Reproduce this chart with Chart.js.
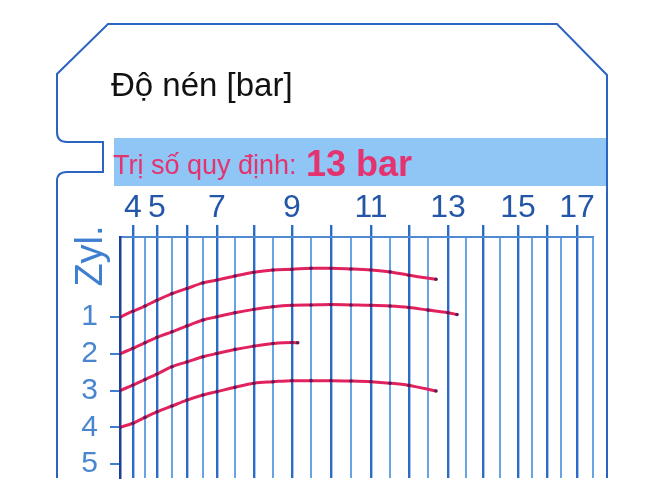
<!DOCTYPE html>
<html>
<head>
<meta charset="utf-8">
<script src="https://cdn.jsdelivr.net/npm/chart.js@4.4.0/dist/chart.umd.min.js"></script>
<style>
  html, body { margin: 0; padding: 0; background: #fff; }
  canvas { display: block; }
</style>
</head>
<body>
<canvas id="card" width="656" height="497"></canvas>
<script>
  // Nhãn thang áp suất (bar) và hàng xi-lanh
  const pressureLabels = [4, 5, 7, 9, 11, 13, 15, 17];
  const cylinders = [1, 2, 3, 4, 5];

  // Vết ghi từng xi-lanh: áp suất (bar) -> vị trí hàng
  const zyl1Bar = [3.5, 4, 4.5, 5, 5.5, 6, 6.5, 7, 7.5, 8, 8.5, 9, 9.5, 10, 10.5, 11, 11.5, 12, 12.7];
  const zyl1Row = [1.0, 0.84, 0.70, 0.54, 0.36, 0.22, 0.07, -0.01, -0.12, -0.22, -0.28, -0.30, -0.33, -0.33, -0.31, -0.28, -0.23, -0.14, -0.03];

  const zyl2Bar = [3.5, 4, 4.5, 5, 5.5, 6, 6.5, 7, 7.5, 8, 8.5, 9, 9.5, 10, 10.5, 11, 11.5, 12, 12.5, 13, 13.25];
  const zyl2Row = [2.0, 1.85, 1.70, 1.55, 1.40, 1.24, 1.08, 0.99, 0.88, 0.79, 0.72, 0.68, 0.67, 0.66, 0.67, 0.68, 0.70, 0.74, 0.81, 0.88, 0.93];

  const zyl3Bar = [3.5, 4, 4.5, 5, 5.5, 6, 6.5, 7, 7.5, 8, 8.5, 9, 9.15];
  const zyl3Row = [3.0, 2.85, 2.70, 2.55, 2.35, 2.22, 2.08, 1.99, 1.88, 1.79, 1.72, 1.69, 1.70];

  const zyl4Bar = [3.5, 4, 4.5, 5, 5.5, 6, 6.5, 7, 7.5, 8, 8.5, 9, 9.5, 10, 10.5, 11, 11.5, 12, 12.7];
  const zyl4Row = [4.0, 3.89, 3.73, 3.58, 3.42, 3.26, 3.12, 3.03, 2.91, 2.80, 2.76, 2.73, 2.73, 2.73, 2.74, 2.76, 2.80, 2.86, 3.01];

  // Thang in trên thẻ không tuyến tính: độ rộng mỗi nửa bar (từ 3.5 đến 17.5)
  const gaugeStart = 3.5;
  const gaugeStep = 0.5;
  const gaugeWidths = [13, 12, 12, 15, 15, 16, 14, 18, 19, 19, 19, 19, 20, 20, 20, 19, 19, 19, 20, 18, 17, 17, 18, 14, 15, 14, 16, 16];
  const gaugeTotal = gaugeWidths.reduce((a, b) => a + b, 0);
  const gaugeEnd = gaugeStart + gaugeWidths.length * gaugeStep;

  function gaugeDecimal(v) {
    let pos = (v - gaugeStart) / gaugeStep;
    if (pos <= 0) return pos * gaugeWidths[0] / gaugeTotal;
    let acc = 0;
    for (let i = 0; i < gaugeWidths.length; i++) {
      if (pos <= 1 || i === gaugeWidths.length - 1) return (acc + pos * gaugeWidths[i]) / gaugeTotal;
      acc += gaugeWidths[i];
      pos -= 1;
    }
    return 1;
  }
  function gaugeValue(d) {
    let px = d * gaugeTotal;
    let v = gaugeStart;
    for (let i = 0; i < gaugeWidths.length; i++) {
      if (px <= gaugeWidths[i] || i === gaugeWidths.length - 1) return v + px / gaugeWidths[i] * gaugeStep;
      px -= gaugeWidths[i];
      v += gaugeStep;
    }
    return gaugeEnd;
  }

  class GaugeScale extends Chart.LinearScale {
    static id = 'gauge';
    getPixelForValue(value) {
      return this.getPixelForDecimal(gaugeDecimal(value));
    }
    getValueForPixel(pixel) {
      return gaugeValue(this.getDecimalForPixel(pixel));
    }
  }
  Chart.register(GaugeScale);

  const gaugeTicks = gaugeWidths.map((w, i) => gaugeStart + i * gaugeStep).concat([gaugeEnd]);
  const toPoints = (xs, ys) => xs.map((x, i) => ({ x: x, y: ys[i] }));

  const traceStyle = {
    borderColor: '#e2225e',
    borderWidth: 3,
    cubicInterpolationMode: 'monotone',
    pointRadius: 1.8,
    pointBackgroundColor: '#5e1a4e',
    pointBorderWidth: 0,
    fill: false
  };

  const cardPlugin = {
    id: 'cardFrame',
    beforeDraw(chart) {
      const c = chart.ctx;
      c.save();
      // dải xanh
      c.fillStyle = '#8fc6f6';
      c.fillRect(114, 138, 493, 48);
      // viền thẻ
      c.strokeStyle = '#2c64c2';
      c.lineWidth = 2;
      c.beginPath();
      c.moveTo(57, 478);
      c.lineTo(57, 181);
      c.quadraticCurveTo(57, 172, 67, 172);
      c.lineTo(103, 172);
      c.lineTo(103, 142);
      c.lineTo(67, 142);
      c.quadraticCurveTo(57, 142, 57, 132);
      c.lineTo(57, 74);
      c.lineTo(108, 24);
      c.lineTo(557, 24);
      c.lineTo(607, 75);
      c.lineTo(607, 478);
      c.stroke();
      // tiêu đề
      c.fillStyle = '#111111';
      c.font = '33px "Liberation Sans"';
      c.textBaseline = 'alphabetic';
      c.fillText('Độ nén [bar]', 111, 96);
      c.fillStyle = '#e5336f';
      c.font = '27px "Liberation Sans"';
      c.fillText('Trị số quy định:', 113, 174);
      c.font = 'bold 36px "Liberation Sans"';
      c.fillText('13 bar', 306, 176);
      // nhãn trục hàng
      c.translate(92, 256);
      c.rotate(-Math.PI / 2);
      c.fillStyle = '#3f7fd0';
      c.font = '38px "Liberation Sans"';
      c.textAlign = 'center';
      c.textBaseline = 'middle';
      c.fillText('Zyl.', 0, 0);
      c.restore();
    }
  };

  new Chart(document.getElementById('card'), {
    type: 'line',
    data: {
      datasets: [
        { label: '1', data: toPoints(zyl1Bar, zyl1Row), ...traceStyle },
        { label: '2', data: toPoints(zyl2Bar, zyl2Row), ...traceStyle },
        { label: '3', data: toPoints(zyl3Bar, zyl3Row), ...traceStyle },
        { label: '4', data: toPoints(zyl4Bar, zyl4Row), ...traceStyle }
      ]
    },
    options: {
      responsive: false,
      animation: false,
      events: [],
      layout: { padding: { left: 0, top: 0, right: 63, bottom: 19 } },
      plugins: { legend: { display: false }, tooltip: { enabled: false } },
      scales: {
        x: {
          type: 'gauge',
          position: 'top',
          min: gaugeStart,
          max: gaugeEnd,
          afterBuildTicks: s => { s.ticks = gaugeTicks.map(v => ({ value: v })); },
          afterFit: s => { s.height = 237; s.paddingLeft = 0; s.paddingRight = 0; },
          ticks: {
            autoSkip: false,
            maxRotation: 0,
            padding: -2,
            color: '#2456a8',
            font: { family: 'Liberation Sans', size: 32 },
            callback: v => pressureLabels.includes(v) ? String(v) : ''
          },
          grid: {
            color: ctx => {
              const v = ctx.tick.value;
              if (v === gaugeStart) return '#1c3f9c';
              return Number.isInteger(v) ? '#2d6bc9' : '#6aa3e3';
            },
            lineWidth: ctx => Number.isInteger(ctx.tick.value) ? 2.4 : 2,
            tickColor: ctx => Number.isInteger(ctx.tick.value) ? '#2d6bc9' : 'rgba(0,0,0,0)',
            tickLength: 12
          },
          border: { display: true, color: '#4f8ad2', width: 2 }
        },
        y: {
          type: 'linear',
          reverse: true,
          min: -1.18,
          max: 5.38,
          afterBuildTicks: s => { s.ticks = cylinders.map(v => ({ value: v })); },
          afterFit: s => { s.width = 120; s.paddingTop = 0; s.paddingBottom = 0; },
          ticks: {
            padding: 12,
            color: '#4a86d0',
            font: { family: 'Liberation Sans', size: 30 }
          },
          grid: {
            drawOnChartArea: false,
            tickLength: 10,
            tickColor: '#3f7fd0',
            lineWidth: 2
          },
          border: { display: true, color: '#1c3f9c', width: 2.5 }
        }
      }
    },
    plugins: [cardPlugin]
  });
</script>
</body>
</html>
